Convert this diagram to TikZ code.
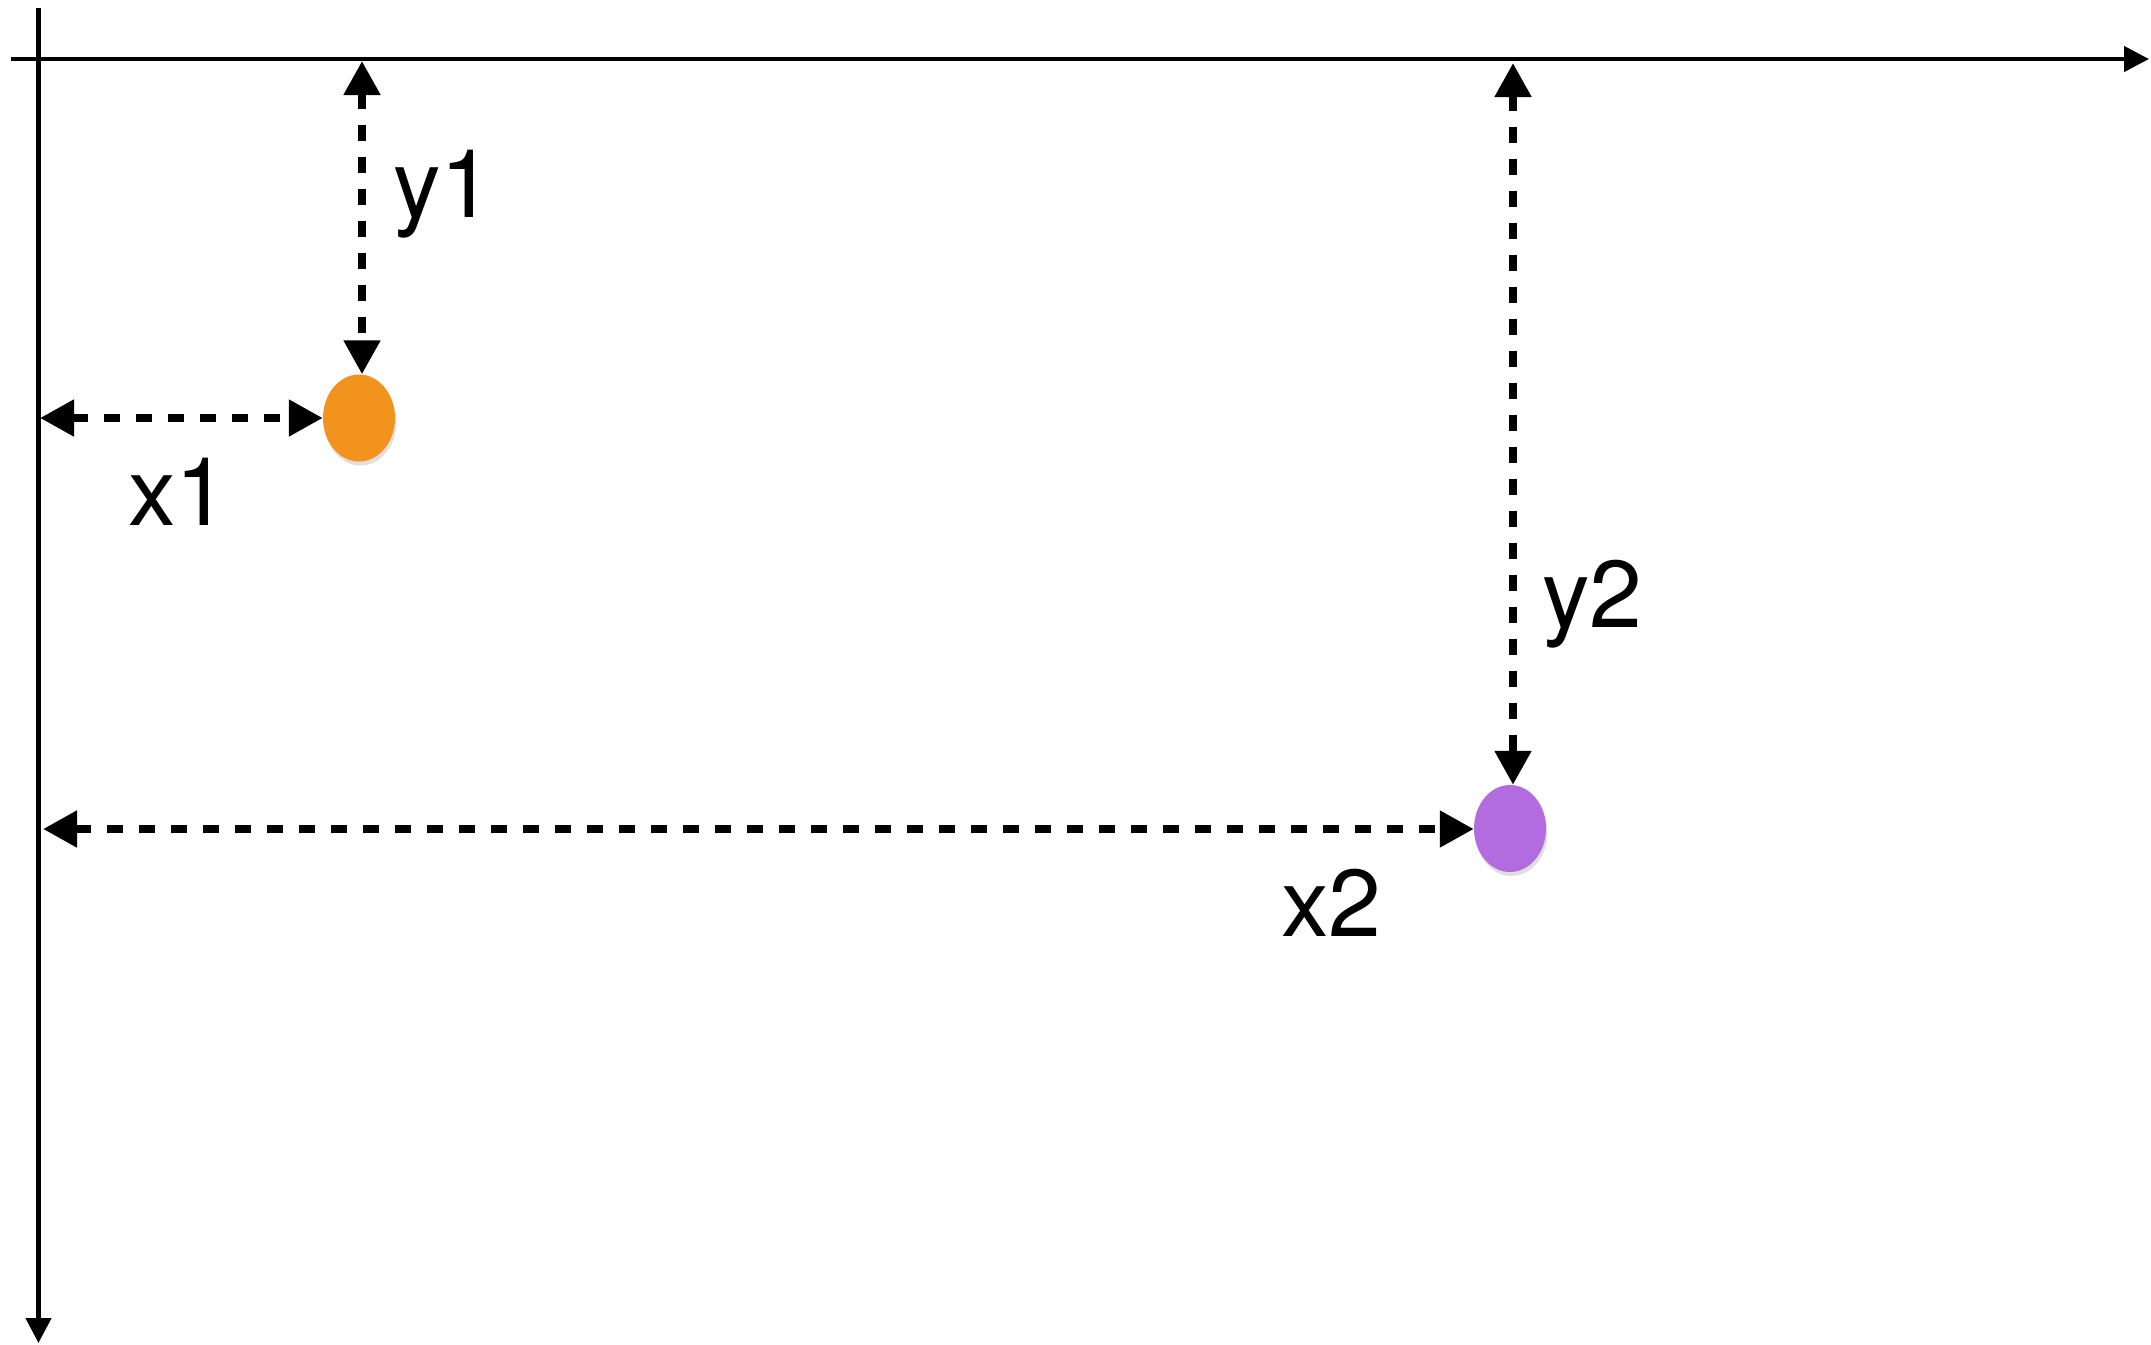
\documentclass[tikz,border=0pt]{standalone}
\usepackage{fontspec}
\setmainfont{TeX Gyre Heros}
\usetikzlibrary{arrows.meta,shadows,calc,shapes.geometric}
\definecolor{dotorange}{HTML}{F2931E}
\definecolor{dotpurple}{HTML}{B36BE0}
\begin{document}
\begin{tikzpicture}[x=1pt,y=-1pt,
  axis/.style={line width=4.5pt,-{Triangle[length=25pt,width=25pt]}},
  measure/.style={line width=8pt,dash pattern=on 16pt off 16pt,
    {Triangle[length=34pt,width=35pt]}-{Triangle[length=34pt,width=35pt]}},
  dotnode/.style={ellipse,minimum width=72pt,minimum height=87pt,inner sep=0pt,
    drop shadow={shadow xshift=1.5pt,shadow yshift=-4pt,opacity=0.25}},
  lbl/.style={anchor=base west,inner sep=0pt,font=\fontsize{95}{110}\selectfont}]
\useasboundingbox (0,0) rectangle (2151,1344);
% axes
\coordinate (vtop) at (38.5,8);
\coordinate (vbot) at (38.5,1343);
\coordinate (hleft) at (11,59);
\coordinate (hright) at (2149,59);
\draw[axis] (hleft) -- (hright);
\draw[axis] (vtop) -- (vbot);
% dots
\node[dotnode,fill=dotorange] (dot1) at (359,418) {};
\node[dotnode,fill=dotpurple] (dot2) at (1510,828.5) {};
% measurement arrows
\coordinate (y1top) at (362,61);
\coordinate (x1left) at (40,418);
\coordinate (y2top) at (1513,63);
\coordinate (x2left) at (43,829);
\draw[measure] (y1top) -- (y1top |- dot1.north);
\draw[measure] (x1left) -- (x1left -| dot1.west);
\draw[measure] (y2top) -- (y2top |- dot2.north);
\draw[measure] (x2left) -- (x2left -| dot2.west);
% labels
\node[lbl] (ly1) at (393,217) {y1};
\node[lbl] (lx1) at (128,525) {x1};
\node[lbl] (ly2) at (1542,627) {y2};
\node[lbl] (lx2) at (1281,936) {x2};
\end{tikzpicture}
\end{document}
